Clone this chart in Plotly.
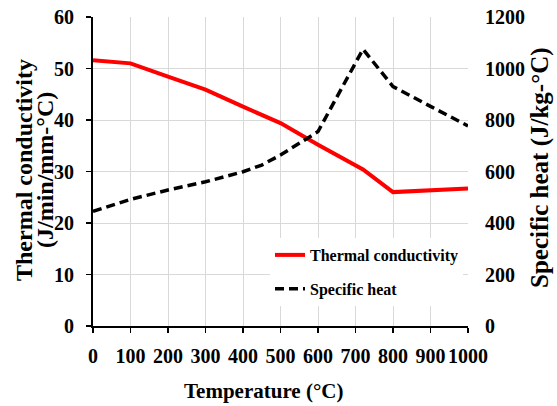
import plotly.graph_objects as go

temps = [0, 100, 200, 300, 400, 450, 500, 600, 720, 800, 900, 1000]
thermal_conductivity = [51.6, 51.0, 48.4, 45.9, 42.6, 41.0, 39.4, 35.2, 30.4, 26.0, 26.35, 26.7]
specific_heat = [445, 492, 528, 560, 599, 625, 664, 755, 1075, 930, 853, 777]
x_ticks = [0, 100, 200, 300, 400, 500, 600, 700, 800, 900, 1000]
left_ticks = [0, 10, 20, 30, 40, 50, 60]
right_ticks = [0, 200, 400, 600, 800, 1000, 1200]

FONT = "Liberation Serif"
W, H = 557, 406
L, R, T, B = 93, 468, 17, 326  # plot area in page pixels

def px(x):
    return (x - L) / (R - L)

def py(y):
    return (B - y) / (B - T)

fig = go.Figure()
fig.add_trace(go.Scatter(
    x=temps, y=thermal_conductivity, name="Thermal conductivity",
    mode="lines", line=dict(color="#ff0000", width=4),
    legendgroup="a", yaxis="y", cliponaxis=False))
fig.add_trace(go.Scatter(
    x=temps, y=specific_heat, name="Specific heat",
    mode="lines", line=dict(color="#000000", width=3.5, dash="9px,5px"),
    legendgroup="b", yaxis="y2", cliponaxis=False))

tickfont = dict(family=FONT, size=20, color="#000000", weight="bold")
fig.update_layout(
    width=W, height=H,
    margin=dict(l=L, r=W - R, t=T, b=H - B, pad=0, autoexpand=False),
    paper_bgcolor="white", plot_bgcolor="white",
    font=dict(family=FONT, color="#000000"),
    showlegend=True,
    legend=dict(
        x=px(270), y=py(238), xanchor="left", yanchor="top",
        bgcolor="white", borderwidth=0, tracegroupgap=10,
        font=dict(family=FONT, size=16, color="#000000", weight="bold"),
    ),
    xaxis=dict(
        range=[0, 1000], tickvals=x_ticks, ticktext=[str(v) for v in x_ticks],
        showgrid=True, gridcolor="#d9d9d9", gridwidth=1,
        showline=True, linecolor="#000000", linewidth=2,
        ticks="outside", ticklen=5, tickcolor="#000000", tickwidth=1.5,
        tickfont=tickfont, ticklabelstandoff=6, automargin=False,
        ticklabeloverflow="allow", zeroline=False, fixedrange=True,
    ),
    yaxis=dict(
        range=[0, 60], tickvals=left_ticks,
        showgrid=True, gridcolor="#d9d9d9", gridwidth=1,
        showline=True, linecolor="#000000", linewidth=2,
        ticks="outside", ticklen=5, tickcolor="#000000", tickwidth=1.5,
        tickfont=tickfont, ticklabelstandoff=8, automargin=False,
        ticklabeloverflow="allow", zeroline=False, fixedrange=True,
    ),
    yaxis2=dict(
        range=[0, 1200], tickvals=right_ticks, overlaying="y", side="right",
        showgrid=False, showline=False, ticks="",
        tickfont=tickfont, ticklabelstandoff=16, automargin=False,
        ticklabeloverflow="allow", zeroline=False, fixedrange=True,
    ),
)

title_font = dict(family=FONT, size=24, color="#000000", weight="bold")
fig.add_annotation(
    text="Thermal conductivity", xref="paper", yref="paper",
    x=px(24), y=py(170), xanchor="center", yanchor="middle", textangle=-90,
    showarrow=False, font=title_font)
fig.add_annotation(
    text="(J/min/mm-°C)", xref="paper", yref="paper",
    x=px(45), y=py(170), xanchor="center", yanchor="middle", textangle=-90,
    showarrow=False, font=title_font)
fig.add_annotation(
    text="Specific heat (J/kg-°C)", xref="paper", yref="paper",
    x=px(540), y=py(168), xanchor="center", yanchor="middle", textangle=-90,
    showarrow=False, font=dict(title_font, size=25))
fig.add_annotation(
    text="Temperature (°C)", xref="paper", yref="paper",
    x=px(263), y=py(391), xanchor="center", yanchor="middle",
    showarrow=False, font=dict(title_font, size=21))

fig.write_html(
    "out.html",
    config={"displayModeBar": False, "staticPlot": True},
    post_script="document.body.style.margin='0px';document.body.style.overflow='hidden';",
)
